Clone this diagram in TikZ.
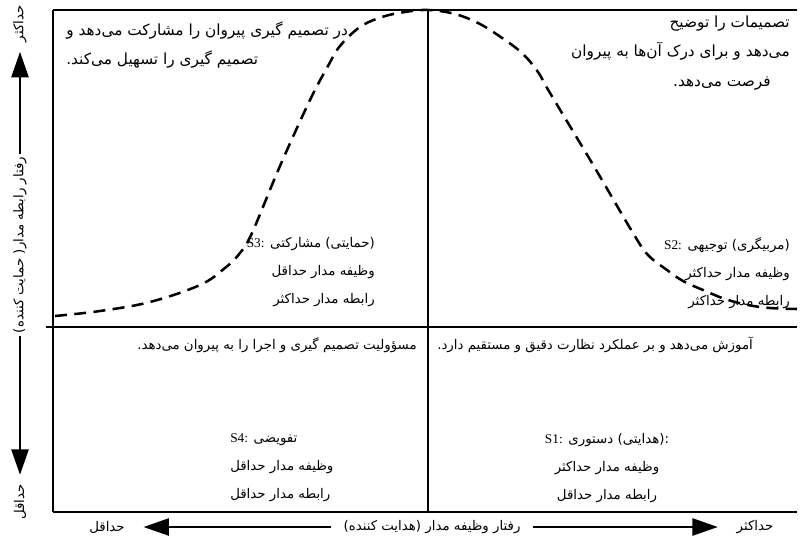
\documentclass[tikz,border=0pt]{standalone}
\usepackage{fontspec}
\setmainfont{Liberation Serif}
\newfontfamily\arabicfont[Script=Arabic]{DejaVu Sans}
\TeXXeTstate=1
\usetikzlibrary{arrows.meta, positioning}

\begin{document}
\begin{tikzpicture}[
	x=0.75pt, y=-0.75pt,
	txt/.style={inner sep=0pt, font=\arabicfont\fontsize{10}{21}\selectfont},
	bigtxt/.style={inner sep=0pt, font=\arabicfont\fontsize{11.5}{21.8}\selectfont},
	frame/.style={line width=1.5pt},
	curve/.style={line width=1.9pt, dash pattern=on 9pt off 5.5pt},
	axis/.style={line width=1.1pt, -{Triangle[length=19pt, width=13pt]}},
	axislabel/.style={inner sep=2pt, font=\arabicfont\fontsize{10}{12}\selectfont},
	axisend/.style={inner sep=7pt, font=\arabicfont\fontsize{10}{12}\selectfont}
	]
	\useasboundingbox (0,0) rectangle (807,539);
	
	% Frame
	\coordinate (tl) at (53,10);
	\coordinate (tr) at (797,10);
	\coordinate (bl) at (53,512);
	\coordinate (br) at (797,512);
	\coordinate (ml) at (46,327);
	\coordinate (mr) at (797,327);
	\coordinate (mt) at (428,10);
	\coordinate (mb) at (428,512);
	\draw[frame] (tl) -- (tr);
	\draw[frame] (bl) -- (br);
	\draw[line width=1.2pt] (tl) -- (bl);
	\draw[frame] (ml) -- (mr);
	\draw[frame] (mt) -- (mb);
	
	% Bell curve
	\draw[curve] plot[smooth, tension=0.6] coordinates {
		(55,316) (100,311) (150,302) (200,285) (225,268) (240,253) (252,233)
		(280,166) (310,100) (328,66) (340,46) (360,27) (382,17) (405,12) (428,10)
		(455,14) (480,24) (505,40) (523,54) (538,72) (550,93) (592,163)
		(633,233) (648,255) (667,270) (683,281) (703,290) (725,299) (748,305)
		(770,308) (797,309)};
	
	% Top quadrants
	\node[bigtxt, anchor=north west, align=left] (q3top) at (66,21)
		{\beginR در تصمیم گیری پیروان را مشارکت می‌دهد و\endR\\
		 \beginR تصمیم گیری را تسهیل می‌کند.\endR};
	\node[bigtxt, anchor=north east, align=right] (q2top) at (790,16)
		{\beginR تصمیمات را توضیح\endR\\
		 \beginR می‌دهد و برای درک آن‌ها به پیروان\endR};
	\node[bigtxt] (q2end) at (722,84) {\beginR فرصت می‌دهد.\endR};
	
	\node[txt, anchor=north east, align=right] (q3mid) at (375,237)
		{{\rmfamily S3:} \beginR مشارکتی\endR\ \beginR(حمایتی)\endR\\
		 \beginR وظیفه مدار حداقل\endR\\
		 \beginR رابطه مدار حداکثر\endR};
	\node[txt, anchor=north east, align=right] (q2mid) at (790,237)
		{{\rmfamily S2:} \beginR توجیهی\endR\ \beginR(مربیگری)\endR\\
		 \beginR وظیفه مدار حداکثر\endR\\
		 \beginR رابطه مدار حداکثر\endR};
	
	% Bottom quadrants
	\node[txt, anchor=east] (q4top) at (417,345)
		{\beginR مسؤولیت تصمیم گیری و اجرا را به پیروان می‌دهد.\endR};
	\node[txt, anchor=west] (q1top) at (437,345)
		{\beginR آموزش می‌دهد و بر عملکرد نظارت دقیق و مستقیم دارد.\endR};
	
	\node[txt, anchor=north west, align=left] (q4low) at (230,433)
		{{\rmfamily S4:} \beginR تفویضی\endR\\
		 \beginR وظیفه مدار حداقل\endR\\
		 \beginR رابطه مدار حداقل\endR};
	\node[txt, anchor=north, align=center] (q1low) at (607,433)
		{{\rmfamily S1:} \beginR دستوری\endR\ \beginR(هدایتی)\endR:\\
		 \beginR وظیفه مدار حداکثر\endR\\
		 \beginR رابطه مدار حداقل\endR};
	
	% Horizontal axis
	\node[axislabel, inner xsep=9pt] (xlabel) at (432,527)
		{\beginR رفتار وظیفه مدار (هدایت کننده)\endR};
	\node[axisend, inner xsep=14pt] (xmin) at (107,527) {\beginR حداقل\endR};
	\node[axisend, inner xsep=14pt] (xmax) at (755,527) {\beginR حداکثر\endR};
	\draw[axis] (xlabel) -- (xmin);
	\draw[axis] (xlabel) -- (xmax);
	
	% Vertical axis
	\node[axislabel, rotate=90] (ylabel) at (20,245)
		{\beginR رفتار رابطه مدار( حمایت کننده)\endR};
	\node[axisend, rotate=90] (ymax) at (20,24) {\beginR حداکثر\endR};
	\node[axisend, rotate=90] (ymin) at (20,502) {\beginR حداقل\endR};
	\draw[axis] (ylabel) -- (ymax);
	\draw[axis] (ylabel) -- (ymin);
	
\end{tikzpicture}
\end{document}
